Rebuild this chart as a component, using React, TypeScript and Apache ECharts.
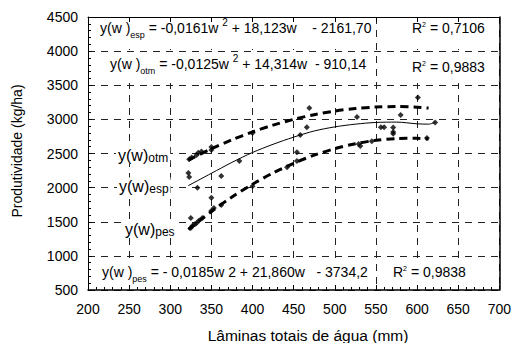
import React, { useEffect, useRef } from "react";
import * as echarts from "echarts";

const F = "'Liberation Sans', Arial, Helvetica, sans-serif";

// Observed points (lâmina total de água, produtividade)
const otmW = [323, 326, 332, 334, 338, 350, 350, 400, 469, 601];
const otmY = [2415, 2440, 2478, 2512, 2530, 2550, 2595, 2800, 3167, 3320];
const espW = [322, 323, 333, 362, 384, 458, 466, 527, 556, 560, 571, 571, 571, 580, 622];
const espY = [2214, 2156, 2000, 2170, 2390, 2771, 2884, 3035, 2884, 2884, 2880, 2815, 2790, 3064, 2955];
const pesW = [325, 325, 327, 330, 332, 335, 339, 350, 350, 353, 362, 400, 442, 454, 454, 529, 531, 545, 612];
const pesY = [1555, 1410, 1440, 1465, 1480, 1520, 1555, 1850, 1660, 1700, 1745, 2020, 2300, 2520, 2390, 2640, 2610, 2680, 2727];

// Fitted curves
const fitW = [322, 350, 375, 400, 425, 450, 475, 500, 525, 550, 575, 600, 614];
const otmFit = [2403, 2569, 2700, 2816, 2916, 3000, 3069, 3122, 3159, 3181, 3188, 3178, 3166];
const pesFit = [1387, 1651, 1862, 2050, 2215, 2357, 2475, 2571, 2643, 2693, 2719, 2722, 2714];
const espFitW = [322, 350, 375, 400, 425, 450, 475, 500, 525, 550, 575, 600, 614, 622];
const espFit = [2030, 2210, 2370, 2515, 2635, 2740, 2830, 2890, 2930, 2955, 2960, 2935, 2930, 2955];

// Texts
const eqEsp = ["y(w )", "esp", " = -0,0161w ", "2", " + 18,123w    - 2161,70"];
const eqOtm = ["y(w )", "otm", " = -0,0125w ", "2", " + 14,314w  - 910,14"];
const eqPes = ["y(w )", "pes", " = - 0,0185w 2 + 21,860w   - 3734,2"];
const r2Esp = "0,7106";
const r2Otm = "0,9883";
const r2Pes = "0,9838";
const xName = "Lâminas totais de água (mm)";
const yName = "Produtividade (kg/ha)";

const pairs = (w: number[], y: number[]) => w.map((v, i) => [v, y[i]]);

const rich = {
  m: { fontSize: 14, fontFamily: F, fill: "#000" },
  sub: { fontSize: 9, fontFamily: F, fill: "#000", padding: [13, 0, 0, 0] },
  sup: { fontSize: 10, fontFamily: F, fill: "#000", padding: [0, 0, 11, 0] },
  sup2: { fontSize: 7, fontFamily: F, fill: "#000", padding: [0, 0, 7, 0] },
  L: { fontSize: 16, fontFamily: F, fill: "#000" },
  Ls: { fontSize: 12, fontFamily: F, fill: "#000", padding: [5, 0, 0, 0] },
};

const txt = (x: number, y: number, text: string, extra: any = {}) => ({
  type: "text",
  x,
  y,
  z: 3,
  style: {
    text,
    rich,
    align: "left",
    textAlign: "left",
    verticalAlign: "middle",
    textVerticalAlign: "middle",
    ...extra,
  },
});

const box = (x: number, y: number, w: number, h: number) => ({
  type: "rect",
  z: 1,
  shape: { x, y, width: w, height: h },
  style: { fill: "#fff" },
});

const eq3 = (p: string[]) =>
  p.length === 5
    ? `{m|${p[0]}}{sub|${p[1]}}{m|${p[2]}}{sup|${p[3]}}{m|${p[4]}}`
    : `{m|${p[0]}}{sub|${p[1]}}{m|${p[2]}}`;
const r2 = (v: string) => `{m|R}{sup2|2}{m| = ${v}}`;
const lab = (s: string) => `{L|y(w)}{Ls|${s}}`;

const dash = [7, 6];

const xMain = {
  type: "value",
  min: 200,
  max: 700,
  interval: 50,
  position: "bottom",
  axisLine: { show: true, onZero: false, lineStyle: { color: "#000", width: 1.5 } },
  axisTick: { show: true, inside: true, length: 5, lineStyle: { color: "#000", width: 1 } },
  minorTick: { show: true, splitNumber: 5, length: 3, lineStyle: { color: "#000", width: 1 } },
  splitLine: { show: true, lineStyle: { color: "#222", width: 1, type: dash } },
  axisLabel: { color: "#000", fontSize: 14, fontFamily: F, margin: 12, formatter: (v: number) => String(v) },
};
const yMain = {
  type: "value",
  min: 500,
  max: 4500,
  interval: 500,
  position: "left",
  axisLine: { show: true, onZero: false, lineStyle: { color: "#000", width: 1 } },
  axisTick: { show: true, inside: true, length: 4, lineStyle: { color: "#000", width: 1 } },
  minorTick: { show: true, splitNumber: 5, length: 3, lineStyle: { color: "#000", width: 1 } },
  splitLine: { show: true, lineStyle: { color: "#222", width: 1, type: dash } },
  axisLabel: { color: "#000", fontSize: 14, fontFamily: F, margin: 10, formatter: (v: number) => String(v) },
};
const xTop = {
  type: "value",
  min: 200,
  max: 700,
  interval: 50,
  position: "top",
  axisLine: { show: true, onZero: false, lineStyle: { color: "#000", width: 1 } },
  axisTick: { show: true, inside: true, length: 5, lineStyle: { color: "#000", width: 1 } },
  axisLabel: { show: false },
  splitLine: { show: false },
};
const yRight = {
  type: "value",
  min: 500,
  max: 4500,
  interval: 500,
  position: "right",
  axisLine: { show: true, onZero: false, lineStyle: { color: "#000", width: 1.5 } },
  axisTick: { show: false },
  axisLabel: { show: false },
  splitLine: { show: false },
};

const option: any = {
  animation: false,
  backgroundColor: "#fff",
  grid: { left: 88, right: 13, top: 17, bottom: 53, show: false },
  xAxis: [xMain, xTop],
  yAxis: [yMain, yRight],
  series: [
    {
      type: "line",
      data: pairs(fitW, otmFit),
      showSymbol: false,
      smooth: 0.3,
      lineStyle: { color: "#000", width: 3, type: [8, 5] },
      z: 3,
    },
    {
      type: "line",
      data: pairs(espFitW, espFit),
      showSymbol: false,
      smooth: 0.3,
      lineStyle: { color: "#000", width: 1 },
      z: 3,
    },
    {
      type: "line",
      data: pairs(fitW, pesFit),
      showSymbol: false,
      smooth: 0.3,
      lineStyle: { color: "#000", width: 3, type: [8, 5] },
      z: 3,
    },
    { type: "scatter", data: pairs(otmW, otmY), symbol: "diamond", symbolSize: 6, itemStyle: { color: "#000" }, z: 4 },
    { type: "scatter", data: pairs(espW, espY), symbol: "diamond", symbolSize: 6, itemStyle: { color: "#000" }, z: 4 },
    { type: "scatter", data: pairs(pesW, pesY), symbol: "diamond", symbolSize: 6, itemStyle: { color: "#000" }, z: 4 },
  ],
  graphic: [
    box(93, 22, 281, 27),
    box(381, 22, 116, 27),
    box(93, 54, 281, 29),
    box(381, 54, 116, 29),
    box(93, 259, 281, 25),
    box(381, 259, 116, 25),
    txt(100, 28, eq3(eqEsp)),
    txt(412, 28, r2(r2Esp)),
    txt(110, 64, eq3(eqOtm)),
    txt(412, 67, r2(r2Otm)),
    txt(102, 272, eq3(eqPes)),
    txt(393, 272, r2(r2Pes)),
    txt(116, 155, lab("otm"), { backgroundColor: "#fff", padding: [0, 2] }),
    txt(117, 186, lab("esp"), { backgroundColor: "#fff", padding: [0, 2] }),
    txt(123, 229, lab("pes"), { backgroundColor: "#fff", padding: [0, 2] }),
    {
      type: "text",
      x: 308,
      y: 335,
      z: 3,
      style: { text: xName, font: `15.5px ${F}`, fill: "#000", align: "center", textAlign: "center", verticalAlign: "middle", textVerticalAlign: "middle" },
    },
    {
      type: "text",
      x: 17,
      y: 151,
      rotation: Math.PI / 2,
      z: 3,
      style: { text: yName, font: `14px ${F}`, fill: "#000", align: "center", textAlign: "center", verticalAlign: "middle", textVerticalAlign: "middle" },
    },
  ],
};

export default function App() {
  const ref = useRef<HTMLDivElement>(null);
  useEffect(() => {
    const chart = echarts.init(ref.current!, null, { renderer: "svg" });
    chart.setOption(option);
    return () => chart.dispose();
  }, []);
  return (
    <div
      ref={ref}
      style={{ position: "fixed", left: 0, top: 0, width: 514, height: 343, background: "#fff" }}
    />
  );
}
